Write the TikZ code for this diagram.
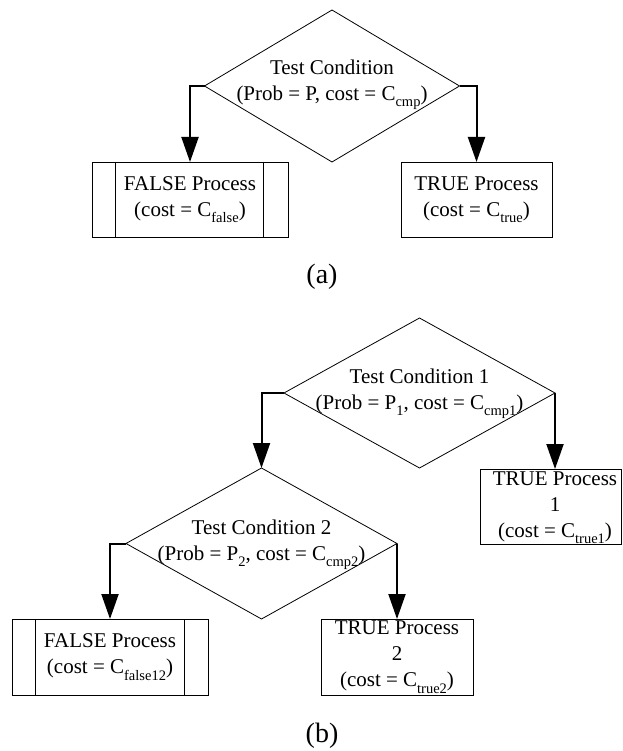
\documentclass[tikz,border=0pt]{standalone}
\usepackage{fontspec}
\setmainfont{Liberation Serif}
\usetikzlibrary{shapes.geometric,arrows.meta}
% lowered, smaller subscript text
\newcommand\lowsub[1]{\raisebox{-6.5pt}{\fontsize{14.5}{14.5}\selectfont #1}}

\begin{document}
\begin{tikzpicture}[x=1pt,y=-1pt,
  decision/.style={draw,diamond,inner sep=0pt,outer sep=0pt,line width=0.8pt},
  procbox/.style={draw,rectangle,inner sep=0pt,outer sep=0pt,line width=0.9pt,
    align=center,font=\fontsize{21}{26}\selectfont},
  txt/.style={align=center,inner sep=0pt,font=\fontsize{21}{26}\selectfont},
  flow/.style={line width=2pt,-{Triangle[length=25pt,width=17pt]}},
  figcap/.style={inner sep=0pt,font=\fontsize{28}{28}\selectfont}]
\useasboundingbox (0,0) rectangle (622,751);

% ---------- (a) single test ----------
\node[decision,minimum width=255pt,minimum height=152pt] (da) at (332,86) {};
\node[txt] (da-t) at (332,85) {Test Condition\\(Prob = P, cost = C\lowsub{cmp})};
\node[procbox,minimum width=196pt,minimum height=75pt] (fa) at (190,199.5)
  {FALSE Process\\(cost = C\lowsub{false})};
\draw[line width=0.9pt] ([xshift=23pt]fa.north west) -- ([xshift=23pt]fa.south west)
  ([xshift=-25pt]fa.north east) -- ([xshift=-25pt]fa.south east);
\node[procbox,minimum width=151pt,minimum height=75pt] (ta) at (476.5,199.5)
  {TRUE Process\\(cost = C\lowsub{true})};
\draw[flow] (da.west) -| (fa.north);
\draw[flow] (da.east) -| (ta.north);
\node[figcap] (cap-a) at (322,277) {(a)};

% ---------- (b) two nested tests ----------
\node[decision,minimum width=271pt,minimum height=150pt] (db1) at (419.5,393) {};
\node[txt] (db1-t) at (419.5,394) {Test Condition 1\\(Prob = P\lowsub{1}, cost = C\lowsub{cmp1})};
\node[decision,minimum width=271pt,minimum height=151pt] (db2) at (261.5,543.5) {};
\node[txt] (db2-t) at (261.5,545) {Test Condition 2\\(Prob = P\lowsub{2}, cost = C\lowsub{cmp2})};

\node[procbox,minimum width=141pt,minimum height=75pt] (tb1) at (550.5,506.5) {};
\node[txt] (tb1-t) at (555,507.5) {TRUE Process\\1\\(cost = C\lowsub{true1})};

\node[procbox,minimum width=196pt,minimum height=76pt] (fb) at (110,657)
  {FALSE Process\\(cost = C\lowsub{false12})};
\draw[line width=0.9pt] ([xshift=23pt]fb.north west) -- ([xshift=23pt]fb.south west)
  ([xshift=-24pt]fb.north east) -- ([xshift=-24pt]fb.south east);
\node[procbox,minimum width=152pt,minimum height=76pt] (tb2) at (397,657)
  {TRUE Process\\2\\(cost = C\lowsub{true2})};

\draw[flow] (db1.west) -| (db2.north);
\draw[flow] (db1.east) -- (db1.east |- tb1.north);
\draw[flow] (db2.west) -| (fb.north);
\draw[flow] (db2.east) -- (tb2.north);
\node[figcap] (cap-b) at (322,736) {(b)};
\end{tikzpicture}
\end{document}
